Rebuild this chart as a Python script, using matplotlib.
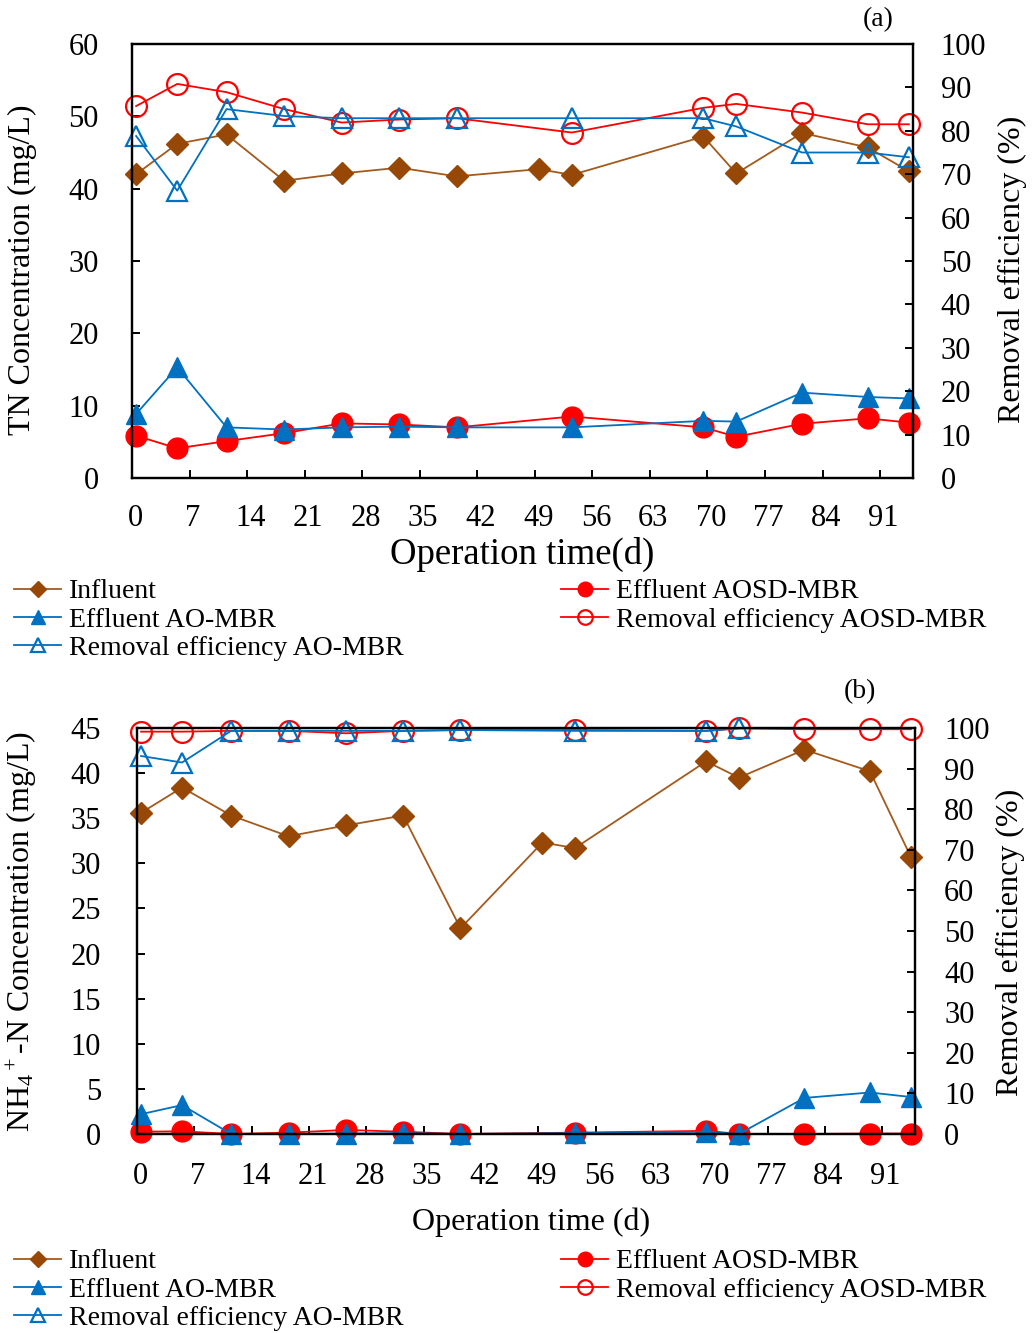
import matplotlib
matplotlib.use('Agg')
import matplotlib.pyplot as plt
from matplotlib.transforms import ScaledTranslation

plt.rcParams['font.family'] = ['Liberation Serif', 'DejaVu Serif']
plt.rcParams['mathtext.fontset'] = 'custom'
plt.rcParams['mathtext.rm'] = 'Liberation Serif'
plt.rcParams['mathtext.it'] = 'Liberation Serif:italic'

# ---------------- data ----------------
days_inf = [0.5, 5.5, 11.5, 18.5, 25.5, 32.5, 39.5, 49.5, 53.5, 69.5, 73.5, 81.5, 89.5, 94.5]
days_eff = [0.5, 5.5, 11.5, 18.5, 25.5, 32.5, 39.5, 53.5, 69.5, 73.5, 81.5, 89.5, 94.5]
days_rem_ao_b = [0.5, 5.5, 11.5, 18.5, 25.5, 32.5, 39.5, 53.5, 69.5, 73.5]

# (a) TN
tn_influent = [42.0, 46.2, 47.5, 41.1, 42.1, 42.9, 41.7, 42.7, 41.9, 47.2, 42.1, 47.7, 45.7, 42.4]
tn_eff_aosd = [5.85, 4.1, 5.1, 6.2, 7.55, 7.4, 7.0, 8.5, 7.0, 5.7, 7.5, 8.25, 7.65]
tn_eff_ao = [8.85, 15.3, 7.0, 6.7, 7.0, 7.1, 7.0, 7.0, 7.9, 7.8, 11.8, 11.2, 11.0]
tn_rem_aosd = [85.7, 90.8, 88.9, 85.0, 81.9, 82.6, 82.9, 79.6, 85.3, 86.2, 84.2, 81.5, 81.5]
tn_rem_ao = [78.8, 66.2, 85.0, 83.4, 82.9, 82.9, 82.9, 82.9, 82.9, 81.0, 75.0, 75.0, 73.9]

# (b) NH4+-N
nh_influent = [35.6, 38.4, 35.3, 33.0, 34.2, 35.3, 22.8, 32.3, 31.7, 41.3, 39.5, 42.6, 40.2, 30.7]
nh_eff_aosd = [0.25, 0.3, 0.0, 0.15, 0.45, 0.25, 0.0, 0.15, 0.35, 0.0, 0.0, 0.05, 0.05]
nh_eff_ao = [2.2, 3.2, 0.0, 0.0, 0.05, 0.1, 0.0, 0.1, 0.25, 0.0, 4.0, 4.6, 4.1]
nh_rem_aosd = [99.1, 99.1, 99.3, 99.3, 98.7, 99.3, 99.5, 99.5, 99.3, 99.9, 99.7, 99.7, 99.7]
nh_rem_ao = [93.1, 91.5, 99.3, 99.3, 99.3, 99.3, 99.5, 99.3, 99.3, 99.9]

xticks = list(range(0, 92, 7))
labels = ['Influent', 'Effluent AO-MBR', 'Removal efficiency AO-MBR',
          'Effluent AOSD-MBR', 'Removal efficiency AOSD-MBR']

BROWN = '#974806'
BROWN_LINE = '#A35A1C'
RED = '#FF0000'
BLUE = '#0070C0'

W, H = 1033, 1333
fig = plt.figure(figsize=(W / 100, H / 100), dpi=100)


def px_rect(l, t, r, b):
    return [l / W, 1 - b / H, (r - l) / W, (b - t) / H]


def panel(rect, yl_max, yl_step, influent, eff_aosd, eff_ao, rem_aosd, rem_ao,
          days_rem_ao, lpad, rpad, bpad):
    ax = fig.add_axes(rect)
    axr = ax.twinx()
    h_inf, = ax.plot(days_inf, influent, color=BROWN_LINE, lw=1.3, marker='D', ms=11,
                     mfc=BROWN, mec=BROWN, clip_on=False, label=labels[0])
    h_eaosd, = ax.plot(days_eff, eff_aosd, color=RED, lw=1.3, marker='o', ms=15,
                       mfc=RED, mec=RED, clip_on=False, label=labels[3])
    h_eao, = ax.plot(days_eff, eff_ao, color=BLUE, lw=1.3, marker='^', ms=15,
                     mfc=BLUE, mec=BLUE, clip_on=False, label=labels[1])
    h_raosd, = axr.plot(days_eff, rem_aosd, color=RED, lw=1.3, marker='o', ms=15,
                        mfc='none', mec=RED, mew=1.6, clip_on=False, label=labels[4])
    h_rao, = axr.plot(days_rem_ao, rem_ao, color=BLUE, lw=1.3, marker='^', ms=15,
                      mfc='none', mec=BLUE, mew=1.6, clip_on=False, label=labels[2])
    ax.set_xlim(0, 95)
    ax.set_xticks(xticks)
    ax.set_ylim(0, yl_max)
    ax.set_yticks(range(0, yl_max + 1, yl_step))
    axr.set_ylim(0, 100)
    axr.set_yticks(range(0, 101, 10))
    for a in (ax, axr):
        for s in a.spines.values():
            s.set_linewidth(1.6)
            s.set_color('black')
    ax.tick_params(axis='x', direction='in', length=6, width=1.4, labelsize=22, pad=bpad)
    ax.tick_params(axis='y', direction='in', length=6, width=1.4, labelsize=22, pad=lpad)
    axr.tick_params(axis='y', direction='in', length=6, width=1.4, labelsize=22, pad=rpad)
    shift = ScaledTranslation(3.5 / 100, 0, fig.dpi_scale_trans)
    for lab in ax.get_xticklabels():
        lab.set_transform(lab.get_transform() + shift)
    return ax, axr, [h_inf, h_eao, h_rao, h_eaosd, h_raosd]


def legend_pair(handles, top_px):
    common = dict(loc='upper left', frameon=False, borderpad=0, borderaxespad=0,
                  handlelength=1.7, handletextpad=0.29, labelspacing=0.1,
                  fontsize=20, markerscale=0.7)
    fig.legend(handles=handles[:3], bbox_to_anchor=(14 / W, 1 - top_px / H), **common)
    fig.legend(handles=handles[3:], bbox_to_anchor=(561 / W, 1 - top_px / H), **common)


# ---------------- panel (a) ----------------
axa, axar, ha = panel(px_rect(132, 44, 913, 478), 60, 10, tn_influent, tn_eff_aosd,
                      tn_eff_ao, tn_rem_aosd, tn_rem_ao, days_eff, 24, 20, 18.5)
fig.text(22 / W, 1 - 270 / H, 'TN Concentration (mg/L)', rotation=90, ha='center',
         va='center', fontsize=23)
fig.text(1012 / W, 1 - 269 / H, 'Removal efficiency (%)', rotation=90, ha='center',
         va='center', fontsize=23)
fig.text(522 / W, 1 - 554 / H, 'Operation time(d)', ha='center', va='center', fontsize=26.5)
fig.text(878 / W, 1 - 20 / H, '(a)', ha='center', va='center', fontsize=20)
legend_pair(ha, 579)

# ---------------- panel (b) ----------------
axb, axbr, hb = panel(px_rect(137, 728, 915, 1134), 45, 5, nh_influent, nh_eff_aosd,
                      nh_eff_ao, nh_rem_aosd, nh_rem_ao, days_rem_ao_b, 26, 21, 20.5)
fig.text(22 / W, 1 - 932 / H, 'NH$_4$$^+$-N Concentration (mg/L)', rotation=90,
         ha='center', va='center', fontsize=23)
fig.text(1010 / W, 1 - 942 / H, 'Removal efficiency (%)', rotation=90, ha='center',
         va='center', fontsize=23)
fig.text(531 / W, 1 - 1222 / H, 'Operation time (d)', ha='center', va='center', fontsize=23)
fig.text(860 / W, 1 - 692 / H, '(b)', ha='center', va='center', fontsize=20)
legend_pair(hb, 1249)

fig.savefig('out.png', dpi=100)
